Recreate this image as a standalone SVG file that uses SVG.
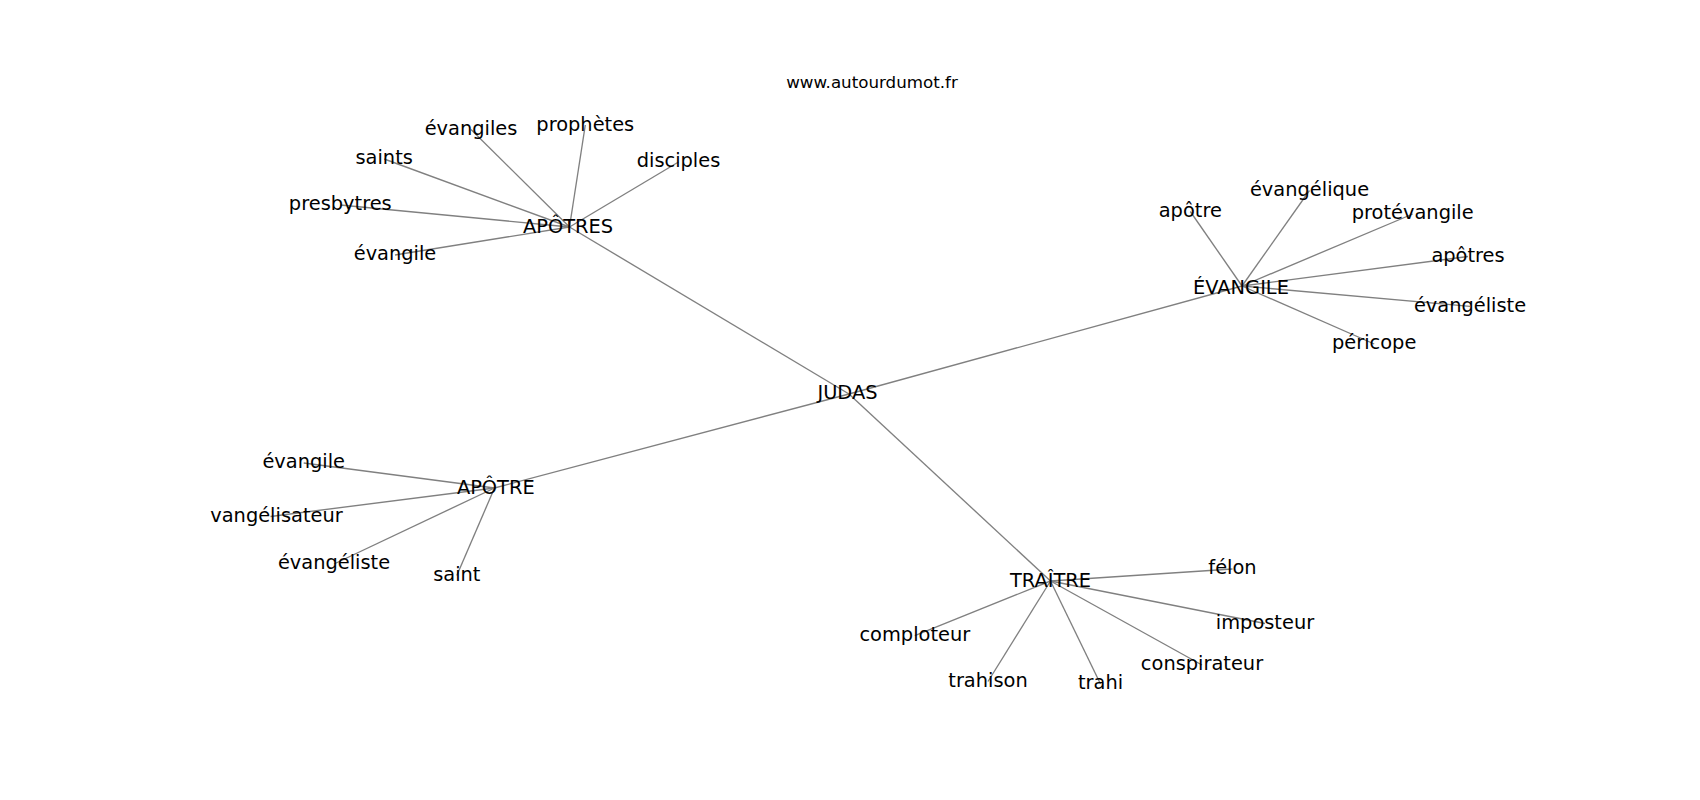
<svg xmlns="http://www.w3.org/2000/svg" width="1700" height="800" viewBox="0 0 1700 800">
<style>
text{font-family:"DejaVu Sans","Liberation Sans",sans-serif;font-size:19.4px;fill:#000;text-anchor:middle}
.title{font-size:16.7px}
.e line{stroke:#808080;stroke-width:1.35}
</style>
<rect width="1700" height="800" fill="#fff"/>
<text class="title" x="872" y="87.7">www.autourdumot.fr</text>
<g id="edges" class="e">
<line x1="849" y1="394" x2="569.5" y2="227"/>
<line x1="849" y1="394" x2="1242" y2="286"/>
<line x1="849" y1="394" x2="494.5" y2="488"/>
<line x1="849" y1="394" x2="1050.5" y2="581"/>
<line x1="569.5" y1="227" x2="471" y2="129.5"/>
<line x1="569.5" y1="227" x2="585.3" y2="125"/>
<line x1="569.5" y1="227" x2="384.2" y2="159"/>
<line x1="569.5" y1="227" x2="678.5" y2="162"/>
<line x1="569.5" y1="227" x2="340.3" y2="205"/>
<line x1="569.5" y1="227" x2="395" y2="255"/>
<line x1="1242" y1="286" x2="1190.3" y2="211.5"/>
<line x1="1242" y1="286" x2="1309.5" y2="190.5"/>
<line x1="1242" y1="286" x2="1412.7" y2="214"/>
<line x1="1242" y1="286" x2="1468" y2="256.5"/>
<line x1="1242" y1="286" x2="1470" y2="306.3"/>
<line x1="1242" y1="286" x2="1374.2" y2="344"/>
<line x1="494.5" y1="488" x2="303.7" y2="463"/>
<line x1="494.5" y1="488" x2="270.5" y2="516.5"/>
<line x1="494.5" y1="488" x2="334" y2="564"/>
<line x1="494.5" y1="488" x2="456.8" y2="575.5"/>
<line x1="1050.5" y1="581" x2="1232.5" y2="569"/>
<line x1="1050.5" y1="581" x2="1265" y2="623.5"/>
<line x1="1050.5" y1="581" x2="914.8" y2="635.6"/>
<line x1="1050.5" y1="581" x2="988" y2="681.5"/>
<line x1="1050.5" y1="581" x2="1100.5" y2="684"/>
<line x1="1050.5" y1="581" x2="1202" y2="665"/>
</g>
<g id="n-judas"><text x="847.5" y="399.3">JUDAS</text></g>
<g id="n-apotres"><text x="568" y="233.3">APÔTRES</text></g>
<g id="n-evangiles"><text x="471" y="135">évangiles</text></g>
<g id="n-prophetes"><text x="585.3" y="130.5">prophètes</text></g>
<g id="n-saints"><text x="384.2" y="164">saints</text></g>
<g id="n-disciples"><text x="678.5" y="167.3">disciples</text></g>
<g id="n-presbytres"><text x="340.3" y="210">presbytres</text></g>
<g id="n-evangile1"><text x="395" y="260">évangile</text></g>
<g id="n-EVANGILE"><text x="1241" y="294">ÉVANGILE</text></g>
<g id="n-apotre1"><text x="1190.3" y="216.7">apôtre</text></g>
<g id="n-evangelique"><text x="1309.5" y="196">évangélique</text></g>
<g id="n-protevangile"><text x="1412.7" y="219.3">protévangile</text></g>
<g id="n-apotres2"><text x="1468" y="261.7">apôtres</text></g>
<g id="n-evangeliste1"><text x="1470" y="311.7">évangéliste</text></g>
<g id="n-pericope"><text x="1374.2" y="349.3">péricope</text></g>
<g id="n-APOTRE"><text x="495.8" y="494">APÔTRE</text></g>
<g id="n-evangile2"><text x="303.7" y="468.3">évangile</text></g>
<g id="n-evangelisateur"><text x="342.7" y="521.7" style="text-anchor:end">vangélisateur</text></g>
<g id="n-evangeliste2"><text x="334" y="569.3">évangéliste</text></g>
<g id="n-saint"><text x="456.8" y="580.7">saint</text></g>
<g id="n-TRAITRE"><text x="1050.5" y="586.7">TRAÎTRE</text></g>
<g id="n-felon"><text x="1232.5" y="574">félon</text></g>
<g id="n-imposteur"><text x="1265" y="629">imposteur</text></g>
<g id="n-comploteur"><text x="914.8" y="640.7">comploteur</text></g>
<g id="n-trahison"><text x="988" y="686.7">trahison</text></g>
<g id="n-trahi"><text x="1100.5" y="689.3">trahi</text></g>
<g id="n-conspirateur"><text x="1202" y="670">conspirateur</text></g>
</svg>
